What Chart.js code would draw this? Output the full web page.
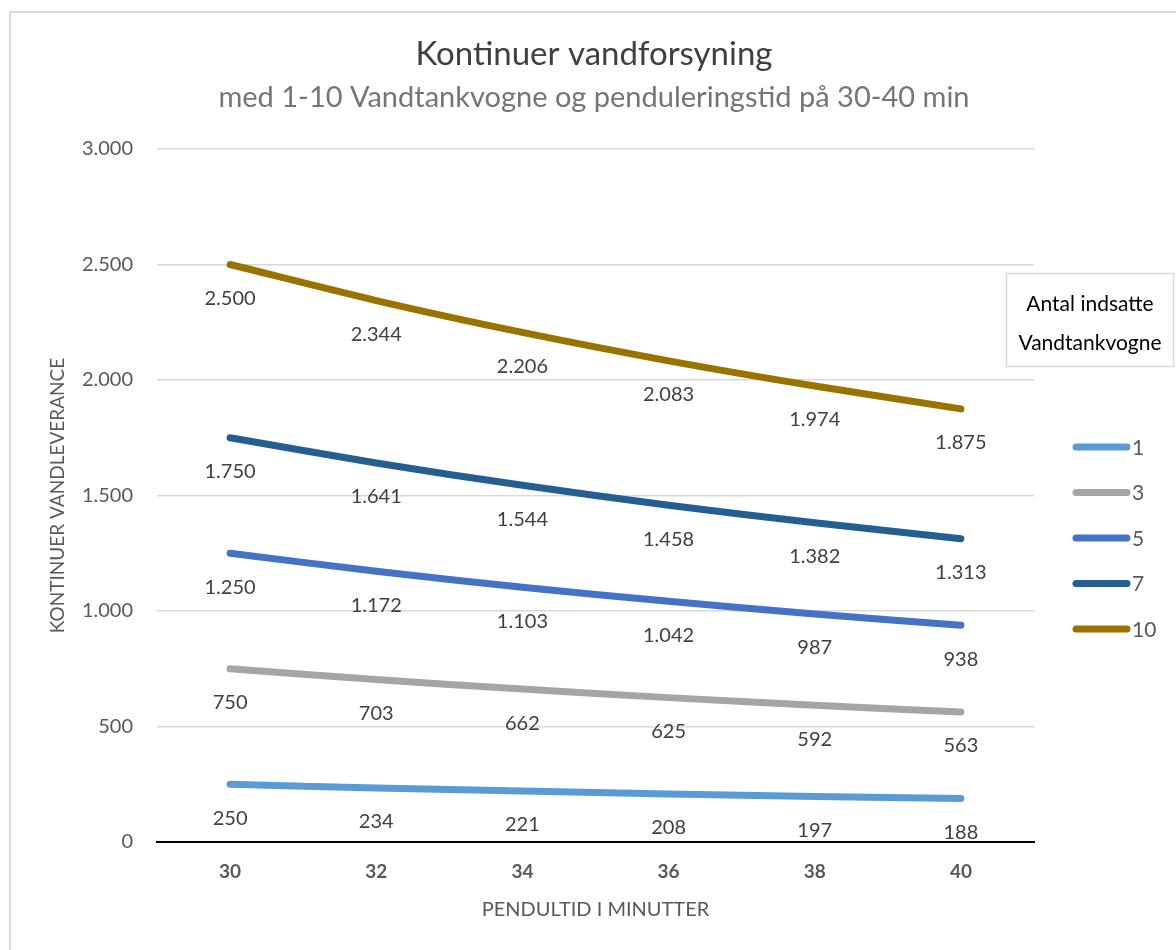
<!DOCTYPE html>
<html>
<head>
<meta charset="utf-8">
<title>Kontinuer vandforsyning</title>
<script src="https://cdn.jsdelivr.net/npm/chart.js@4"></script>
<style>
  html, body { margin: 0; padding: 0; background: #fff; }
  canvas { display: block; }
</style>
</head>
<body>
<canvas id="waterChart" width="1176" height="950"></canvas>
<script>
// Data
const minutes = ['30', '32', '34', '36', '38', '40'];
const seriesNames = ['1', '3', '5', '7', '10'];
const tank1 = [250, 234, 221, 208, 197, 188];
const tank3 = [750, 703, 662, 625, 592, 563];
const tank5 = [1250, 1172, 1103, 1042, 987, 938];
const tank7 = [1750, 1641, 1544, 1458, 1382, 1313];
const tank10 = [2500, 2344, 2206, 2083, 1974, 1875];
const colors = ['#5B9BD5', '#A5A5A5', '#4472C4', '#255E91', '#997300'];

const FONT = 'Lato, "Open Sans", sans-serif';

// danish thousands separator
function fmt(v) {
  return String(Math.round(v)).replace(/\B(?=(\d{3})+(?!\d))/g, '.');
}

// Outer frame
const framePlugin = {
  id: 'frame',
  beforeDraw(chart) {
    const c = chart.ctx;
    c.save();
    c.strokeStyle = '#D9D9D9';
    c.lineWidth = 2;
    c.strokeRect(10, 12, 1300, 1100);
    c.restore();
  }
};

// Value labels under each point
const labelPlugin = {
  id: 'pointLabels',
  afterDatasetsDraw(chart) {
    const c = chart.ctx;
    c.save();
    c.font = '20px ' + FONT;
    c.fillStyle = '#404040';
    c.textAlign = 'center';
    c.textBaseline = 'middle';
    chart.data.datasets.forEach((ds, i) => {
      chart.getDatasetMeta(i).data.forEach((pt, j) => {
        c.fillText(fmt(ds.data[j]), pt.x, pt.y + 34);
      });
    });
    c.restore();
  }
};

// Legend on the right with boxed title
const sideLegend = {
  id: 'sideLegend',
  afterDraw(chart) {
    const c = chart.ctx;
    c.save();
    c.fillStyle = '#fff';
    c.fillRect(1006, 273, 168, 94);
    c.strokeStyle = '#D9D9D9';
    c.lineWidth = 1.5;
    c.strokeRect(1006.5, 273.5, 167, 93);
    c.fillStyle = '#000';
    c.font = '21px ' + FONT;
    c.textAlign = 'center';
    c.textBaseline = 'middle';
    c.fillText('Antal indsatte', 1090, 304);
    c.fillText('Vandtankvogne', 1090, 343);

    c.textAlign = 'left';
    chart.data.datasets.forEach((ds, i) => {
      const y = 447 + i * 45.5;
      c.strokeStyle = ds.borderColor;
      c.lineWidth = 7;
      c.lineCap = 'round';
      c.beginPath();
      c.moveTo(1076, y);
      c.lineTo(1127, y);
      c.stroke();
      c.fillStyle = '#595959';
      c.fillText(ds.label, 1132, y + 1);
    });
    c.restore();
  }
};

const allSeries = [tank1, tank3, tank5, tank7, tank10];

const ctx = document.getElementById('waterChart').getContext('2d');

const waterChart = new Chart(ctx, {
  type: 'line',
  data: {
    labels: minutes,
    datasets: seriesNames.map((name, i) => ({
      label: name,
      data: allSeries[i],
      borderColor: colors[i],
      backgroundColor: colors[i],
      borderWidth: 7,
      borderCapStyle: 'round',
      borderJoinStyle: 'round',
      pointRadius: 0,
      pointHoverRadius: 0,
      tension: 0.3,
      fill: false
    }))
  },
  options: {
    responsive: false,
    animation: false,
    devicePixelRatio: 1,
    layout: {
      padding: { top: 20, left: 12, right: 0, bottom: 28 }
    },
    plugins: {
      legend: { display: false },
      tooltip: { enabled: false },
      title: {
        display: true,
        text: 'Kontinuer vandforsyning',
        color: '#404040',
        font: { family: FONT, size: 33, weight: 'normal', lineHeight: 1.2 },
        padding: { top: 15, bottom: 0 }
      },
      subtitle: {
        display: true,
        text: 'med 1-10 Vandtankvogne og penduleringstid på 30-40 min',
        color: '#757575',
        font: { family: FONT, size: 29, weight: 'normal', lineHeight: 1.2 },
        padding: { top: 6, bottom: 33.6 }
      }
    },
    scales: {
      x: {
        offset: true,
        grid: { display: false, drawTicks: false },
        border: { display: true, color: '#000', width: 2 },
        ticks: {
          color: '#595959',
          padding: 18.6,
          font: { family: FONT, size: 19, weight: 'bold' }
        },
        title: {
          display: true,
          text: 'PENDULTID I MINUTTER',
          color: '#595959',
          font: { family: FONT, size: 20 },
          padding: { top: 0, bottom: 0 }
        },
        afterFit(scale) { scale.height = 80; }
      },
      y: {
        min: 0,
        max: 3000,
        grid: { color: '#D9D9D9', lineWidth: 1.5, drawTicks: false },
        border: { display: false },
        ticks: {
          stepSize: 500,
          color: '#595959',
          padding: 24,
          font: { family: FONT, size: 20 },
          callback: v => fmt(v)
        },
        title: {
          display: true,
          text: 'KONTINUER VANDLEVERANCE',
          color: '#595959',
          font: { family: FONT, size: 19 },
          padding: { top: 34, bottom: 0 }
        },
        afterFit(scale) { scale.width = 145; }
      },
      // empty right axis keeps room for the legend
      yRight: {
        position: 'right',
        grid: { display: false, drawTicks: false },
        border: { display: false },
        ticks: { display: false },
        afterFit(scale) { scale.width = 142; }
      }
    }
  },
  plugins: [framePlugin, labelPlugin, sideLegend]
});
</script>
</body>
</html>
